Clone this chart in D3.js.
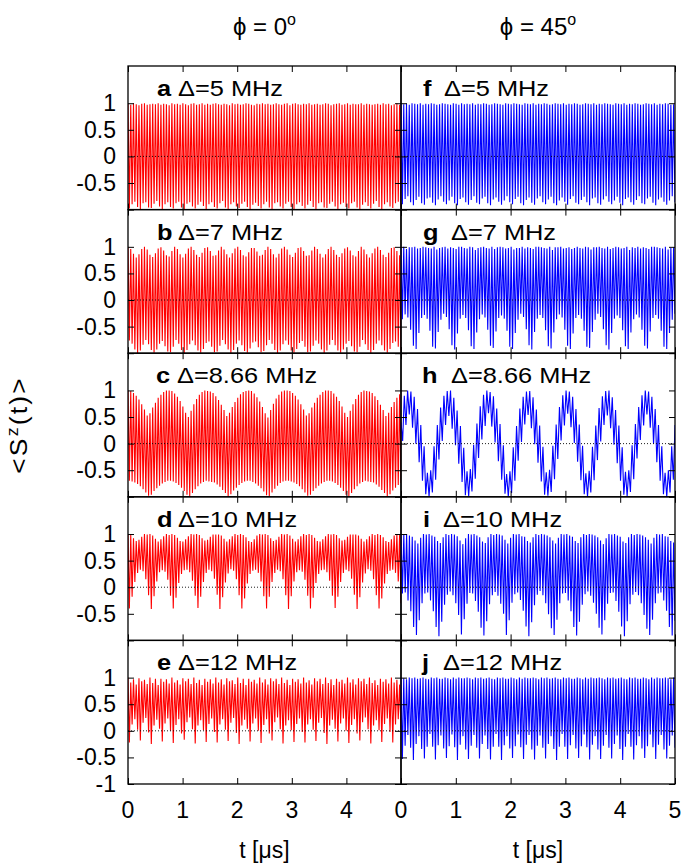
<!DOCTYPE html>
<html><head><meta charset="utf-8">
<script src="https://cdn.jsdelivr.net/npm/d3@7"></script>
<style>body{margin:0;background:#fff}text{font-family:"Liberation Sans",Arial,Helvetica,sans-serif;fill:#000}</style>
</head><body><svg id="c" width="685" height="865"></svg>
<script>
// ---------------- data (extrema of <S^z(t)>) ----------------
const xTicks = [0,1,2,3,4,5];
const xTickLabelsLeft = ["0","1","2","3","4"];
const xTickLabelsRight = ["0","1","2","3","4","5"];
const yTicks = [-1,-0.5,0,0.5,1];
const yTickLabels = ["-1","-0.5","0","0.5","1"];
const colTitles = ["0","45"];
const panelLetters = ["a","b","c","d","e","f","g","h","i","j"];
const deltaLabels = ["Δ=5 MHz","Δ=7 MHz","Δ=8.66 MHz","Δ=10 MHz","Δ=12 MHz"];

const aTop = [0.99,0.97,1.00,0.98,0.96,0.99,1.00,0.97,0.98,0.99,0.98,1.00,0.97,0.99,0.98,0.96,1.00,0.98,0.99,0.97,1.00,0.98,0.96,0.99,1.00,0.97,0.98,1.00,0.97,0.99,0.97,0.99,1.00,0.98,0.97,0.99,0.98,0.96,1.00,0.98,0.99,0.97,0.98,1.00,0.99,0.97,0.96,0.99,0.98,1.00,0.98,0.99,0.97,0.98,1.00,0.98,0.97,0.99,1.00,0.96,0.99,1.00,0.98,0.97,0.99,0.98,1.00,0.97,0.98,0.99,0.97,0.98,1.00,0.99,0.96,0.98,0.99,1.00,0.97,0.98,1.00,0.97,0.99,0.98,0.98,1.00,0.97,0.99,0.98,0.97,0.98,0.99,0.97,1.00,0.98,0.99,0.96,0.98,1.00,0.97];
const aBot = [-0.98,-0.90,-0.85,-0.95,-0.99,-0.88,-0.86,-0.96,-0.97,-0.89,-0.84,-0.94,-0.99,-0.90,-0.86,-0.95,-0.98,-0.88,-0.85,-0.96,-0.99,-0.89,-0.86,-0.94,-0.98,-0.91,-0.85,-0.93,-0.99,-0.90,-0.86,-0.95,-0.98,-0.88,-0.84,-0.96,-0.99,-0.90,-0.86,-0.94,-0.97,-0.89,-0.85,-0.95,-0.99,-0.91,-0.87,-0.93,-0.98,-0.90,-0.85,-0.96,-0.99,-0.88,-0.86,-0.94,-0.98,-0.89,-0.85,-0.95,-0.99,-0.90,-0.86,-0.93,-0.98,-0.91,-0.84,-0.95,-0.99,-0.88,-0.86,-0.96,-0.97,-0.89,-0.85,-0.94,-0.99,-0.90,-0.87,-0.95,-0.98,-0.88,-0.85,-0.96,-0.99,-0.91,-0.86,-0.93,-0.98,-0.89,-0.84,-0.95,-0.99,-0.90,-0.86,-0.94,-0.97,-0.88,-0.85,-0.96];

const bTop = [1.00,0.96,0.87,0.80,0.86,0.96,1.00,0.95,0.85,0.81,0.88,0.97,0.99,0.93,0.84,0.82,0.92,1.00,0.96,0.86,0.80,0.87,0.97,1.00,0.94,0.85,0.81,0.89,0.98,0.99,0.92,0.83,0.84,0.93,1.00,0.95,0.86,0.80,0.88,0.97,1.00,0.94,0.84,0.82,0.90,0.98,0.98,0.91,0.83,0.85,0.94,1.00,0.96,0.86,0.80,0.87,0.97,1.00,0.95,0.85,0.81,0.89,0.98,0.99,0.92,0.83,0.84,0.93,1.00,0.96,0.87,0.80,0.86,0.96,1.00,0.94,0.85,0.81,0.88,0.97,0.99,0.93,0.84,0.82,0.92,1.00,0.95,0.86,0.80,0.88,0.97,1.00,0.94,0.85,0.81,0.89,0.98,0.99,0.92,0.84];
const bBot = [-0.76,-0.82,-0.93,-1.00,-0.95,-0.84,-0.75,-0.83,-0.94,-0.99,-0.93,-0.82,-0.77,-0.87,-0.97,-0.98,-0.88,-0.75,-0.82,-0.94,-1.00,-0.94,-0.83,-0.76,-0.85,-0.95,-0.99,-0.92,-0.81,-0.78,-0.88,-0.98,-0.97,-0.86,-0.75,-0.83,-0.93,-1.00,-0.94,-0.82,-0.76,-0.85,-0.96,-0.99,-0.91,-0.80,-0.78,-0.89,-0.98,-0.96,-0.85,-0.75,-0.82,-0.94,-1.00,-0.95,-0.83,-0.76,-0.84,-0.95,-0.99,-0.92,-0.81,-0.77,-0.88,-0.98,-0.97,-0.86,-0.76,-0.82,-0.93,-1.00,-0.95,-0.84,-0.75,-0.85,-0.95,-0.99,-0.93,-0.82,-0.77,-0.87,-0.97,-0.98,-0.88,-0.75,-0.83,-0.94,-1.00,-0.94,-0.82,-0.76,-0.85,-0.95,-0.99,-0.92,-0.81,-0.78,-0.88,-0.97];

const cTop = [1.00,0.99,0.95,0.90,0.83,0.74,0.64,0.53,0.57,0.68,0.77,0.86,0.92,0.97,1.00, 1.00,0.99,0.94,0.88,0.80,0.70,0.58,0.50,0.62,0.74,0.84,0.92,0.97,1.00, 0.99,0.98,0.95,0.89,0.82,0.73,0.63,0.52,0.58,0.69,0.78,0.86,0.93,0.97,0.99, 1.00,0.99,0.94,0.87,0.79,0.69,0.57,0.49,0.63,0.75,0.85,0.92,0.98,1.00, 1.00,0.99,0.95,0.90,0.83,0.74,0.64,0.53,0.57,0.68,0.77,0.86,0.92,0.97,1.00, 1.00,0.99,0.94,0.88,0.80,0.70,0.58,0.50,0.62,0.74,0.84,0.92,0.97,1.00, 0.99,0.98,0.95,0.89,0.82,0.73,0.63,0.52,0.58,0.69,0.78,0.86,0.93];
const cBot = [-0.70,-0.71,-0.73,-0.76,-0.80,-0.86,-0.92,-0.98,-0.96,-0.89,-0.84,-0.79,-0.75,-0.72,-0.70, -0.70,-0.71,-0.74,-0.78,-0.83,-0.89,-0.96,-1.00,-0.93,-0.86,-0.80,-0.75,-0.72,-0.70, -0.71,-0.72,-0.73,-0.77,-0.81,-0.87,-0.93,-0.99,-0.95,-0.88,-0.83,-0.78,-0.74,-0.71,-0.70, -0.70,-0.72,-0.75,-0.79,-0.84,-0.90,-0.97,-0.99,-0.92,-0.85,-0.79,-0.74,-0.71,-0.70, -0.70,-0.71,-0.73,-0.76,-0.80,-0.86,-0.92,-0.98,-0.96,-0.89,-0.84,-0.79,-0.75,-0.72,-0.70, -0.70,-0.71,-0.74,-0.78,-0.83,-0.89,-0.96,-1.00,-0.93,-0.86,-0.80,-0.75,-0.72,-0.70, -0.71,-0.72,-0.73,-0.77,-0.81,-0.87,-0.93,-0.99,-0.95,-0.88,-0.83,-0.78,-0.74];

const dTop = [1.00,0.98,0.92,0.87,0.89,0.95,1.00,0.99, 1.00,0.97,0.91,0.86,0.90,0.96,1.00,0.98, 1.00,0.98,0.93,0.87,0.86,0.90,0.96,1.00,0.99, 1.00,0.98,0.92,0.88,0.89,0.95,0.99,0.99, 0.99,0.97,0.91,0.86,0.90,0.96,1.00,0.98, 1.00,0.98,0.94,0.87,0.85,0.90,0.97,1.00,0.99, 1.00,0.98,0.92,0.87,0.89,0.95,1.00,0.99, 1.00,0.97,0.91,0.86,0.90,0.96,1.00,0.98, 1.00,0.98,0.93,0.87,0.86,0.90,0.96,1.00,0.99, 1.00,0.98,0.92,0.88,0.89,0.95,0.99,0.99, 0.99,0.97,0.91,0.86,0.90,0.96,1.00,0.98, 1.00,0.98,0.94,0.87,0.85,0.90,0.97,1.00,0.99];
const dBot = [-0.40,-0.18,0.10,0.27,0.33,0.30,0.15,-0.15, -0.41,-0.17,0.11,0.28,0.32,0.29,0.14,-0.16, -0.40,-0.20,0.08,0.25,0.32,0.33,0.28,0.12,-0.16, -0.39,-0.18,0.10,0.27,0.33,0.30,0.16,-0.14, -0.41,-0.19,0.09,0.26,0.34,0.31,0.15,-0.15, -0.40,-0.21,0.07,0.25,0.31,0.33,0.27,0.11,-0.17, -0.40,-0.18,0.10,0.27,0.33,0.30,0.15,-0.15, -0.41,-0.17,0.11,0.28,0.32,0.29,0.14,-0.16, -0.40,-0.20,0.08,0.25,0.32,0.33,0.28,0.12,-0.16, -0.39,-0.18,0.10,0.27,0.33,0.30,0.16,-0.14, -0.41,-0.19,0.09,0.26,0.34,0.31,0.15,-0.15, -0.40,-0.21,0.07,0.25,0.31,0.33,0.27,0.11,-0.30];

const eTop = [1.00,0.91,0.97,0.87, 0.99,0.93,0.96,0.88, 1.00,0.90,0.98,0.86, 0.98,0.92,0.97,0.89, 1.00,0.91,0.95,0.87, 0.99,0.93,0.98,0.88, 1.00,0.90,0.96,0.86, 0.98,0.92,0.97,0.89, 1.00,0.91,0.97,0.87, 0.99,0.93,0.95,0.88, 1.00,0.90,0.98,0.86, 0.98,0.92,0.96,0.89, 1.00,0.91,0.97,0.87, 0.99,0.93,0.98,0.88, 1.00,0.90,0.96,0.86, 0.98,0.92,0.97,0.89, 1.00,0.91,0.95,0.87, 0.99,0.93,0.98,0.88, 1.00,0.90,0.97,0.86, 0.98,0.92,0.96,0.89, 1.00,0.91,0.97,0.87, 0.99,0.93,0.98,0.88, 1.00,0.90,0.95,0.86, 0.98,0.92,0.97,0.89, 1.00,0.91,0.96,0.87];
const eBot = [-0.22,0.12,0.22,0.02, -0.18,0.15,0.24,-0.03, -0.25,0.10,0.21,0.04, -0.20,0.14,0.23,0.00, -0.23,0.11,0.22,-0.05, -0.17,0.16,0.25,0.03, -0.24,0.10,0.20,0.01, -0.21,0.13,0.23,-0.02, -0.22,0.12,0.22,0.02, -0.19,0.15,0.24,-0.04, -0.25,0.10,0.21,0.04, -0.20,0.14,0.23,0.00, -0.23,0.11,0.22,-0.05, -0.18,0.16,0.25,0.03, -0.24,0.10,0.20,0.01, -0.21,0.13,0.23,-0.02, -0.22,0.12,0.22,0.02, -0.19,0.15,0.24,-0.04, -0.25,0.10,0.21,0.04, -0.20,0.14,0.23,0.00, -0.23,0.11,0.22,-0.05, -0.18,0.16,0.25,0.03, -0.24,0.10,0.20,0.01, -0.21,0.13,0.23,-0.02, -0.22,0.12,0.22,0.02];

const fTop = [1.00,0.98,0.99,0.97,1.00,0.99,0.98,1.00,0.97,0.99,0.98,1.00,0.99,0.97,0.98,1.00,0.99,0.98,0.97,1.00,0.99,0.97,1.00,0.98,0.99,0.98,1.00,0.97,0.99,0.98,1.00,0.99,0.97,0.98,1.00,0.99,0.98,0.97,1.00,0.99,0.98,1.00,0.99,0.98,0.97,1.00,0.99,0.98,1.00,0.97,0.99,0.98,1.00,0.99,0.97,0.98,1.00,0.99,0.98,1.00,0.97,0.99,0.98,1.00,0.99,0.97,0.98,1.00,0.99,0.98,1.00,0.97,0.99,0.98,1.00,0.99,0.98,0.97,1.00,0.99,0.98,1.00,0.97,0.99,0.98,1.00,0.99,0.97,0.98,1.00,0.99,0.98,1.00,0.97,0.99,0.98,1.00,0.99,0.97,0.98];
const fBot = [-0.90,-0.80,-0.75,-0.86,-0.92,-0.82,-0.76,-0.88,-0.91,-0.79,-0.77,-0.87,-0.92,-0.81,-0.75,-0.85,-0.90,-0.83,-0.76,-0.88,-0.92,-0.80,-0.77,-0.86,-0.91,-0.82,-0.75,-0.87,-0.90,-0.79,-0.76,-0.88,-0.92,-0.81,-0.77,-0.85,-0.91,-0.83,-0.75,-0.86,-0.90,-0.80,-0.76,-0.88,-0.92,-0.82,-0.77,-0.87,-0.91,-0.79,-0.75,-0.86,-0.90,-0.81,-0.76,-0.88,-0.92,-0.83,-0.77,-0.85,-0.91,-0.80,-0.75,-0.87,-0.90,-0.82,-0.76,-0.86,-0.92,-0.79,-0.77,-0.88,-0.91,-0.81,-0.75,-0.85,-0.90,-0.83,-0.76,-0.87,-0.92,-0.80,-0.77,-0.86,-0.91,-0.82,-0.75,-0.88,-0.90,-0.79,-0.76,-0.87,-0.92,-0.81,-0.77,-0.85,-0.91,-0.83,-0.75,-0.86];

const gTop = [0.98,1.00,0.96,0.99,0.99,1.00,0.97, 0.98,1.00,0.99,0.98,0.97,1.00,0.95, 0.98,0.99,1.00,0.97,0.99,0.98,0.96, 1.00,1.00,0.98,0.97,1.00,0.99,0.94, 0.98,0.99,1.00,0.98,0.97,1.00,0.96, 0.99,1.00,0.99,0.97,0.98,1.00,0.95, 0.98,0.98,1.00,0.97,0.99,0.98,0.96, 1.00,1.00,0.99,0.98,0.97,1.00,0.94, 0.99,0.99,1.00,0.97,0.98,0.99,0.96, 0.98,1.00,0.98,0.97,1.00,0.99,0.95, 0.99,0.99,1.00,0.98,0.97,1.00,0.96, 0.98,1.00,0.99,0.97,0.98,1.00,0.94, 0.99,0.98,1.00,0.97,0.99,0.98,0.96, 1.00,1.00,0.99,0.98,0.97,1.00,0.95, 0.98,0.99];
const gBot = [-0.36,-0.27,-0.33,-0.56,-0.86,-0.92,-0.62, -0.34,-0.28,-0.35,-0.58,-0.88,-0.91,-0.60, -0.37,-0.26,-0.32,-0.55,-0.85,-0.93,-0.63, -0.35,-0.28,-0.34,-0.57,-0.87,-0.92,-0.61, -0.36,-0.27,-0.33,-0.56,-0.86,-0.90,-0.59, -0.34,-0.29,-0.35,-0.58,-0.88,-0.92,-0.62, -0.37,-0.26,-0.32,-0.55,-0.85,-0.93,-0.60, -0.35,-0.28,-0.34,-0.57,-0.87,-0.91,-0.61, -0.36,-0.27,-0.33,-0.56,-0.86,-0.92,-0.63, -0.34,-0.28,-0.35,-0.58,-0.88,-0.90,-0.60, -0.37,-0.26,-0.32,-0.55,-0.85,-0.93,-0.62, -0.35,-0.29,-0.34,-0.57,-0.87,-0.92,-0.61, -0.36,-0.27,-0.33,-0.56,-0.86,-0.91,-0.59, -0.34,-0.28,-0.35,-0.58,-0.88,-0.92,-0.62, -0.37,-0.26];

// panel h: successive local maxima / minima (fast ripple on a slow swing)
const hVals = [0.40,0.05,0.90,0.35,
 1.00,0.55,0.98,0.30,0.88,0.00,0.65,-0.35,0.35,-0.70,-0.05,-0.95,-0.55,-1.00,-0.50,-0.92,-0.05,-0.68,0.35,-0.30,0.68,0.05,0.90,0.35,
 0.99,0.52,1.00,0.28,0.86,-0.03,0.62,-0.38,0.33,-0.72,-0.08,-0.97,-0.52,-0.99,-0.48,-0.90,-0.02,-0.66,0.38,-0.27,0.70,0.08,0.92,0.33,
 1.00,0.57,0.97,0.32,0.89,0.02,0.66,-0.33,0.37,-0.68,-0.03,-0.94,-0.57,-1.00,-0.52,-0.93,-0.07,-0.70,0.33,-0.32,0.66,0.03,0.88,0.36,
 0.98,0.54,0.99,0.29,0.87,-0.01,0.64,-0.36,0.34,-0.71,-0.06,-0.96,-0.54,-0.98,-0.49,-0.91,-0.04,-0.67,0.36,-0.29,0.69,0.06,0.91,0.34,
 1.00,0.56,0.98,0.31,0.88,0.01,0.65,-0.34,0.36,-0.69,-0.04,-0.95,-0.56,-1.00,-0.51,-0.92,-0.06,-0.69,0.34,-0.31,0.67,0.04,0.89,0.35,
 0.99,0.53,1.00,0.29,0.87,-0.02,0.63,-0.37,0.34,-0.70,-0.07,-0.96,-0.53,-0.99,-0.50,-0.91,-0.03,-0.67,0.37,-0.28,0.69,0.07,0.91,0.34,
 1.00,0.55,0.98,0.30,0.88,0.00,0.65,-0.35,0.35,-0.70,-0.05,-0.95,-0.55,-1.00,-0.50,-0.92,-0.05,-0.68,0.35];

const iTop = [1.00,0.99,1.00,0.97,0.95, 0.88,0.82,0.93,1.00,0.99,1.00,0.97,0.95, 0.87,0.83,0.94,1.00,0.98,1.00,0.99,0.96, 0.88,0.81,0.92,1.00,0.99,1.00,0.97,0.94, 0.86,0.83,0.94,1.00,0.98,1.00,0.99,0.97, 0.89,0.82,0.93,1.00,0.99,1.00,0.96,0.95, 0.87,0.84,0.94,1.00,0.98,1.00,0.99,0.97,0.94, 0.88,0.82,0.93,1.00,0.99,1.00,0.97,0.95, 0.87,0.83,0.94,1.00,0.98,1.00,0.99,0.97,0.94, 0.88,0.81,0.92,1.00,0.99,1.00,0.97,0.95, 0.86,0.83,0.94,1.00,0.98,1.00,0.99,0.97,0.94, 0.89,0.82,0.93,1.00,0.99,1.00,0.96,0.95, 0.87,0.84];
const iBot = [-0.12,-0.10,-0.25,-0.45,-0.75, -0.90,-0.62,-0.30,-0.12,-0.10,-0.25,-0.45,-0.75, -0.92,-0.65,-0.33,-0.14,-0.08,-0.15,-0.30,-0.52, -0.89,-0.60,-0.31,-0.11,-0.12,-0.26,-0.46,-0.76, -0.91,-0.64,-0.32,-0.15,-0.09,-0.16,-0.31,-0.50, -0.90,-0.62,-0.29,-0.13,-0.10,-0.24,-0.44,-0.74, -0.92,-0.66,-0.34,-0.14,-0.07,-0.15,-0.30,-0.51,-0.77, -0.90,-0.61,-0.30,-0.12,-0.11,-0.25,-0.45,-0.75, -0.91,-0.65,-0.33,-0.13,-0.08,-0.16,-0.29,-0.50,-0.76, -0.89,-0.62,-0.31,-0.11,-0.10,-0.26,-0.46,-0.74, -0.92,-0.64,-0.32,-0.14,-0.09,-0.15,-0.30,-0.52,-0.78, -0.90,-0.61,-0.30,-0.12,-0.10,-0.25,-0.44,-0.75, -0.91,-0.63];

const jTop = [1.00,0.99,0.97,1.00, 0.99,1.00,0.98,0.99, 1.00,0.98,0.97,1.00, 0.99,1.00,0.98,0.98, 1.00,0.99,0.97,1.00, 0.98,1.00,0.99,0.99, 1.00,0.99,0.97,1.00, 0.99,1.00,0.98,0.99, 1.00,0.98,0.97,1.00, 0.99,1.00,0.98,0.98, 1.00,0.99,0.97,1.00, 0.98,1.00,0.99,0.99, 1.00,0.99,0.97,1.00, 0.99,1.00,0.98,0.99, 1.00,0.98,0.97,1.00, 0.99,1.00,0.98,0.98, 1.00,0.99,0.97,1.00, 0.98,1.00,0.99,0.99, 1.00,0.99,0.97,1.00, 0.99,1.00,0.98,0.99, 1.00,0.98,0.97,1.00, 0.99,1.00,0.98,0.98, 1.00,0.99,0.97,1.00, 0.98,1.00,0.99,0.99, 1.00,0.99,0.97,1.00];
const jBot = [-0.53,-0.28,-0.08,-0.32, -0.55,-0.25,-0.10,-0.34, -0.52,-0.30,-0.06,-0.30, -0.54,-0.27,-0.09,-0.33, -0.51,-0.29,-0.07,-0.31, -0.55,-0.26,-0.10,-0.35, -0.53,-0.28,-0.08,-0.32, -0.52,-0.25,-0.09,-0.34, -0.54,-0.30,-0.06,-0.30, -0.55,-0.27,-0.10,-0.33, -0.51,-0.29,-0.07,-0.31, -0.53,-0.26,-0.08,-0.35, -0.54,-0.28,-0.09,-0.32, -0.52,-0.25,-0.10,-0.34, -0.55,-0.30,-0.06,-0.30, -0.53,-0.27,-0.08,-0.33, -0.51,-0.29,-0.07,-0.31, -0.54,-0.26,-0.10,-0.35, -0.53,-0.28,-0.08,-0.32, -0.52,-0.25,-0.09,-0.34, -0.55,-0.30,-0.06,-0.30, -0.54,-0.27,-0.10,-0.33, -0.51,-0.29,-0.07,-0.31, -0.53,-0.26,-0.08,-0.35, -0.52,-0.28,-0.09,-0.32];

// ---------------- drawing ----------------
const interleave = (top, bot) => top.flatMap((v, i) => [v, bot[i]]);
const series = [
  {col:0,row:0,color:"#ff0000",vals:interleave(aTop,aBot)},
  {col:0,row:1,color:"#ff0000",vals:interleave(bTop,bBot)},
  {col:0,row:2,color:"#ff0000",vals:interleave(cTop,cBot)},
  {col:0,row:3,color:"#ff0000",vals:interleave(dTop,dBot)},
  {col:0,row:4,color:"#ff0000",vals:interleave(eTop,eBot)},
  {col:1,row:0,color:"#0000ff",vals:interleave(fTop,fBot)},
  {col:1,row:1,color:"#0000ff",vals:interleave(gTop,gBot)},
  {col:1,row:2,color:"#0000ff",vals:hVals},
  {col:1,row:3,color:"#0000ff",vals:interleave(iTop,iBot)},
  {col:1,row:4,color:"#0000ff",vals:interleave(jTop,jBot)}
];

const SX = 1.18;
const colX = [128, 401, 675];
const top0 = 66, bot0 = 784, nRows = 5;
const rowH = (bot0 - top0) / nRows;
const svg = d3.select("#c");

function stext(parent, x, y, str, size, anchor, weight, sx) {
  return parent.append("text")
    .attr("transform", `translate(${x},${y}) scale(${sx || 1},1)`)
    .attr("text-anchor", anchor || "start")
    .attr("font-size", size)
    .attr("font-weight", weight || "normal")
    .text(str);
}

const defs = svg.append("defs");
const labelDeltaX = [[178,178,177,178,178],[444,451,451,443,443]];
const labelLetterX = [[157,157,156,157,157],[423,423,422,423,422]];

series.forEach((p, k) => {
  const x0 = colX[p.col], x1 = colX[p.col + 1];
  const yt = top0 + p.row * rowH, yb = yt + rowH;
  const x = d3.scaleLinear().domain([0, 5]).range([x0, x1]);
  const y = d3.scaleLinear().domain([-1, 1.7]).range([yb, yt]);
  const idx = d3.scaleLinear().domain([0, p.vals.length - 1]).range([0, 5]);
  const cid = "clip" + k;
  defs.append("clipPath").attr("id", cid).append("rect")
    .attr("x", x0).attr("y", yt).attr("width", x1 - x0).attr("height", yb - yt);
  const g = svg.append("g");
  g.append("path").datum(p.vals)
    .attr("clip-path", `url(#${cid})`)
    .attr("fill", "none").attr("stroke", p.color).attr("stroke-width", 1.1)
    .attr("stroke-linejoin", "miter")
    .attr("d", d3.line().x((d, i) => x(idx(i))).y(d => y(d)));
  // zero line
  g.append("line").attr("x1", x0).attr("x2", x1).attr("y1", y(0)).attr("y2", y(0))
    .attr("stroke", "#000").attr("stroke-width", 0.9).attr("stroke-dasharray", "1,2");
  // ticks (inward, all sides)
  const tk = 6;
  const axes = [
    [d3.axisBottom(x).tickValues(xTicks), `translate(0,${yb})`],
    [d3.axisTop(x).tickValues(xTicks), `translate(0,${yt})`],
    [d3.axisLeft(y).tickValues(yTicks), `translate(${x0},0)`],
    [d3.axisRight(y).tickValues(yTicks), `translate(${x1},0)`]
  ];
  axes.forEach(([ax, tr]) => {
    const a = g.append("g").attr("transform", tr).call(ax.tickSize(-tk).tickFormat(""));
    a.select(".domain").remove();
    a.selectAll("line").attr("stroke", "#000").attr("stroke-width", 1);
  });
  g.append("rect").attr("x", x0).attr("y", yt).attr("width", x1 - x0).attr("height", yb - yt)
    .attr("fill", "none").attr("stroke", "#000").attr("stroke-width", 1.3);
  // panel label
  stext(g, labelLetterX[p.col][p.row], yt + 30, panelLetters[k], 21.5, "start", "bold", SX);
  stext(g, labelDeltaX[p.col][p.row], yt + 30, deltaLabels[p.row], 21.5, "start", "normal", SX);
  // y tick labels on left column
  if (p.col === 0) {
    yTicks.forEach((v, i) => {
      if (v === -1 && p.row !== nRows - 1) return;
      stext(g, 116, y(v) + 8, yTickLabels[i], 23, "end");
    });
  }
  if (p.row === nRows - 1) {
    const labs = p.col === 0 ? xTickLabelsLeft : xTickLabelsRight;
    labs.forEach((s, i) => stext(g, x(xTicks[i]), 818, s, 23, "middle"));
    stext(g, (x0 + x1) / 2, 858, "t [μs]", 23, "middle");
  }
});

// column titles
[0, 1].forEach(c => {
  const cx = (colX[c] + colX[c + 1]) / 2;
  const t = stext(svg, cx, 35, "", 24, "middle");
  t.append("tspan").text("ϕ = " + colTitles[c]);
  t.append("tspan").attr("dy", -10).attr("font-size", 16).text("o");
});

// y axis label
const yl = svg.append("text")
  .attr("transform", "translate(27,425) rotate(-90) scale(1.1,1)")
  .attr("text-anchor", "middle").attr("font-size", 24)
  .attr("letter-spacing", 2);
yl.append("tspan").text("<S");
yl.append("tspan").attr("dy", -9).attr("font-size", 16).text("z");
yl.append("tspan").attr("dy", 9).text("(t)>");
</script></body></html>
